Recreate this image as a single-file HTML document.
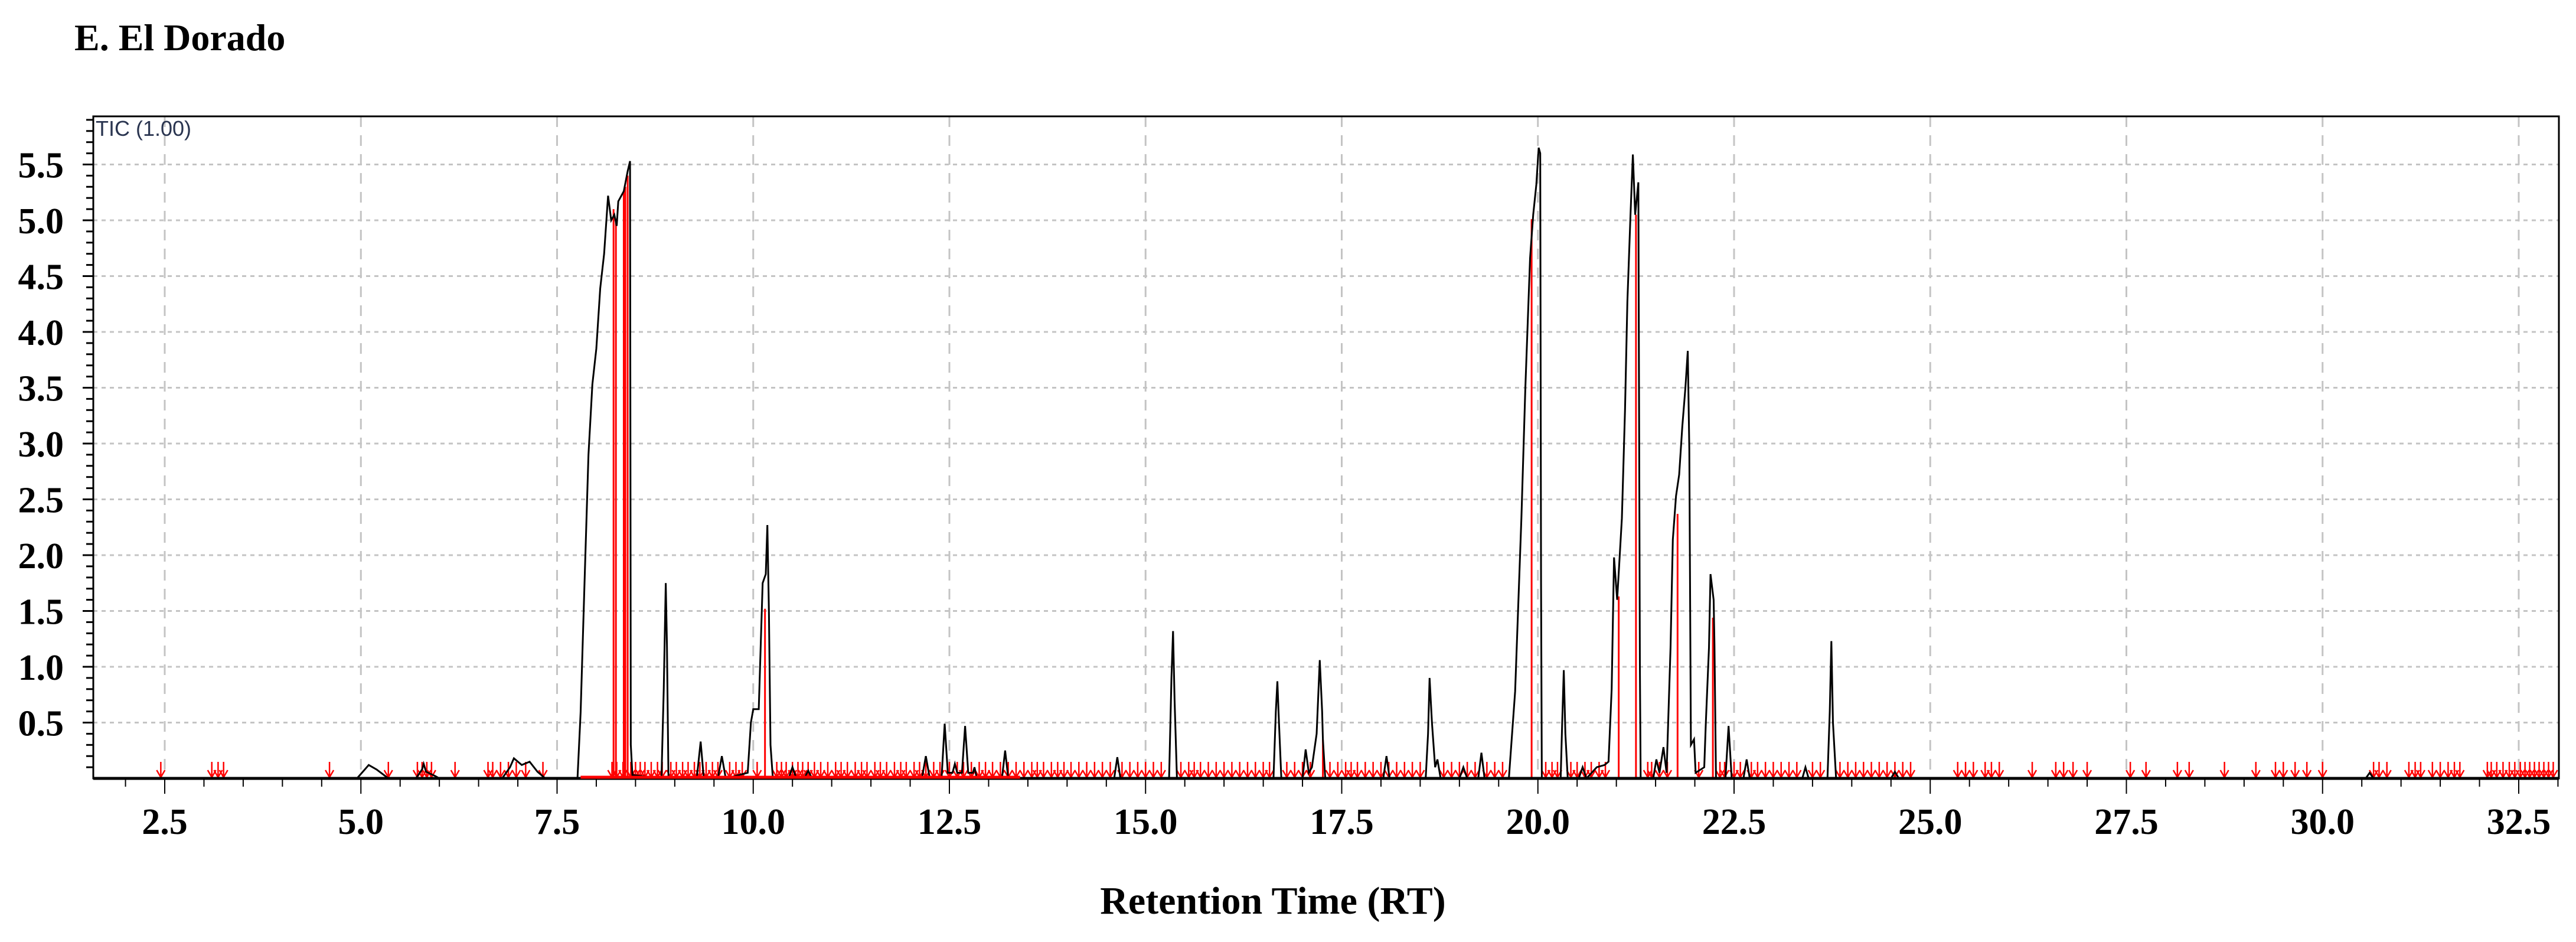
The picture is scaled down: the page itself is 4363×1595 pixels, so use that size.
<!DOCTYPE html>
<html><head><meta charset="utf-8">
<style>
html,body{margin:0;padding:0;background:#fff;}
body{width:4363px;height:1590px;overflow:hidden;}
svg text{font-family:"Liberation Serif",serif;}
</style></head>
<body>
<svg id="chart" width="4363" height="1590" viewBox="0 0 4363 1590" xmlns="http://www.w3.org/2000/svg">
<text x="126" y="85" font-size="64" font-weight="bold" fill="#000">E. El Dorado</text>
<g id="grid"></g>
<g id="redlines"></g>
<g id="arrows"></g>
<path id="trace" fill="none" stroke="#000" stroke-width="3" stroke-linejoin="miter"/>
<g id="axes"></g>
<text x="162" y="230" font-size="36" fill="#2a3550" style="font-family:'Liberation Sans',sans-serif">TIC (1.00)</text>
<text x="2156" y="1547" font-size="66" font-weight="bold" text-anchor="middle" fill="#000">Retention Time (RT)</text>
</svg>
<script>
// ---- data ----
const traceT = [1.8,4.95,5.05,5.1,5.2,5.35,5.7,5.78,5.8,5.83,5.95,6.0,6.8,6.9,6.95,7.05,7.15,7.25,7.35,7.76,7.80,7.85,7.90,7.95,8.00,8.05,8.10,8.14,8.15,8.19,8.23,8.26,8.28,8.35,8.40,8.43,8.44,8.46,8.83,8.86,8.885,8.90,8.92,9.28,9.33,9.37,9.55,9.6,9.65,9.93,9.97,10.0,10.07,10.12,10.16,10.18,10.2,10.22,10.25,10.45,10.5,10.55,10.65,10.7,10.75,12.15,12.2,12.25,12.4,12.44,12.48,12.54,12.57,12.6,12.66,12.70,12.74,12.8,12.82,12.85,13.17,13.21,13.25,14.6,14.64,14.68,15.30,15.33,15.35,15.37,15.40,16.63,16.66,16.68,16.70,16.73,17.0,17.04,17.08,17.12,17.18,17.22,17.25,17.26,17.29,18.03,18.07,18.11,18.57,18.6,18.62,18.65,18.69,18.72,18.76,19.0,19.05,19.1,19.24,19.28,19.32,19.55,19.63,19.71,19.79,19.84,19.90,19.94,19.98,20.01,20.03,20.04,20.05,20.29,20.31,20.33,20.35,20.38,20.52,20.57,20.62,20.75,20.85,20.9,20.94,20.97,21.01,21.07,21.11,21.14,21.18,21.21,21.24,21.28,21.30,21.31,21.47,21.51,21.55,21.60,21.64,21.69,21.72,21.76,21.80,21.84,21.88,21.91,21.93,21.95,21.99,22.01,22.12,22.14,22.18,22.20,22.24,22.25,22.27,22.39,22.43,22.47,22.62,22.66,22.7,23.37,23.41,23.45,23.69,23.72,23.74,23.76,23.80,24.5,24.55,24.6,30.55,30.6,30.65,33.0];
const traceV = [0,0,0.08,0.12,0.08,0,0,0.08,0.13,0.06,0.02,0,0,0.1,0.18,0.12,0.15,0.06,0,0,0.59,1.75,2.9,3.53,3.85,4.39,4.7,5.12,5.22,5.0,5.05,4.95,5.17,5.26,5.44,5.53,0.3,0.03,0,0.8,1.75,1.2,0,0,0.33,0,0,0.2,0,0.05,0.5,0.62,0.62,1.75,1.83,2.27,1.5,0.3,0,0,0.1,0,0,0.07,0,0,0.2,0,0,0.49,0.05,0.05,0.13,0.05,0.05,0.47,0.05,0.05,0.1,0,0,0.25,0,0,0.19,0,0,0.9,1.32,0.7,0,0,0.6,0.87,0.5,0,0,0.26,0.05,0.1,0.4,1.06,0.6,0.35,0,0,0.2,0,0,0.4,0.9,0.5,0.1,0.17,0,0,0.1,0,0,0.23,0,0,0,0.78,2.33,3.5,4.66,5.05,5.32,5.65,5.6,1.75,0,0,0.5,0.97,0.4,0,0,0.1,0,0.1,0.12,0.15,0.8,1.98,1.6,2.33,3.3,4.27,5.05,5.59,5.05,5.34,1.0,0,0,0.17,0.05,0.28,0.05,1.17,2.14,2.53,2.72,3.15,3.5,3.83,2.95,0.3,0.35,0.05,0.1,0.5,1.17,1.83,1.6,1.2,0,0,0.47,0,0,0.17,0,0,0.1,0,0,0.6,1.23,0.5,0,0,0.06,0,0,0.05,0,0];
const markerT = [8.22,8.25,8.35,8.37,8.40,10.15,17.26,19.92,21.03,21.25,21.78,22.23];
const markerV = [5.1,5.0,5.26,5.3,5.4,1.52,0.35,5.01,1.63,5.05,2.37,1.44];
const arrowT = [2.45,3.1,3.18,3.25,4.6,5.35,5.72,5.78,5.84,5.9,6.2,6.62,6.68,6.78,6.88,6.98,7.1,7.32,8.2,8.26,8.34,8.44,8.5,8.56,8.62,8.7,8.78,8.84,8.95,9.02,9.1,9.17,9.25,9.32,9.4,9.48,9.55,9.7,9.78,9.86,10.05,10.3,10.36,10.42,10.5,10.57,10.63,10.7,10.78,10.86,10.95,11.05,11.12,11.2,11.3,11.38,11.45,11.55,11.62,11.7,11.8,11.88,11.95,12.05,12.12,12.2,12.3,12.38,12.5,12.6,12.68,12.78,12.88,12.96,13.05,13.15,13.25,13.35,13.45,13.55,13.62,13.7,13.8,13.88,13.96,14.05,14.15,14.25,14.35,14.45,14.55,14.7,14.8,14.9,15.0,15.1,15.2,15.45,15.55,15.62,15.7,15.8,15.9,16.0,16.1,16.2,16.3,16.4,16.5,16.58,16.8,16.9,17.0,17.1,17.35,17.45,17.55,17.62,17.7,17.8,17.9,18.0,18.1,18.2,18.3,18.4,18.5,18.8,18.9,19.0,19.1,19.2,19.35,19.45,19.55,20.1,20.18,20.25,20.42,20.5,20.6,20.68,20.78,20.86,21.4,21.45,21.55,21.65,22.05,22.32,22.38,22.5,22.58,22.72,22.8,22.9,23.0,23.1,23.2,23.3,23.5,23.6,23.85,23.95,24.05,24.15,24.25,24.35,24.45,24.55,24.65,24.75,25.35,25.45,25.55,25.7,25.78,25.88,26.3,26.6,26.7,26.82,27.0,27.55,27.75,28.15,28.3,28.75,29.15,29.4,29.5,29.65,29.8,30.0,30.65,30.72,30.82,31.1,31.18,31.25,31.4,31.5,31.6,31.68,31.75,32.1,32.15,32.22,32.3,32.38,32.45,32.52,32.58,32.64,32.7,32.76,32.82,32.88,32.94];
const xTicks = [2.5,5.0,7.5,10.0,12.5,15.0,17.5,20.0,22.5,25.0,27.5,30.0,32.5];
const yTicks = [0.5,1.0,1.5,2.0,2.5,3.0,3.5,4.0,4.5,5.0,5.5];

// ---- axes ----
const L=158,R=4334,T=197,B=1318;
const xS=t=>279+(t-2.5)*132.9;
const yS=v=>B-v*189;
const NS="http://www.w3.org/2000/svg";
function mk(tag,attrs,parent){const e=document.createElementNS(NS,tag);for(const k in attrs)e.setAttribute(k,attrs[k]);parent.appendChild(e);return e;}
const grid=document.getElementById('grid'),axes=document.getElementById('axes');

xTicks.forEach(t=>{
  const g=mk('line',{x1:xS(t),x2:xS(t),y1:T,y2:B,stroke:'#c4c4c4','stroke-width':3,'stroke-dasharray':'18 14'},grid);
  
  
  const lb=mk('text',{x:xS(t),y:1412,'font-size':62,'font-weight':'bold','text-anchor':'middle',fill:'#000'},axes);
  lb.textContent=t.toFixed(1);
  
  
});
yTicks.forEach(v=>{
  const g=mk('line',{x1:L,x2:R,y1:yS(v),y2:yS(v),stroke:'#c4c4c4','stroke-width':3,'stroke-dasharray':'7 7'},grid);
  
  
  const lb=mk('text',{x:108,y:yS(v)+22,'font-size':62,'font-weight':'bold','text-anchor':'end',fill:'#000'},axes);
  lb.textContent=v.toFixed(1);
  
  
});
for(let i=1;i<=59;i++){const v=i/10;const y=yS(v);if(y<T)break;
  const major=(i%5===0);
  mk('line',{x1:major?140:146,x2:L,y1:y,y2:y,stroke:'#000','stroke-width':3},axes);}
for(let i=4;i<=66;i++){const t=i/2;const x=xS(t);if(x<L||x>R)continue;
  const major=(i%5===0);
  mk('line',{x1:x,x2:x,y1:B,y2:B+(major?26:14),stroke:'#000','stroke-width':2},axes);}
const fr=mk('path',{d:`M${L},${B} L${L},${T} L${R},${T} L${R},${B} Z`,fill:'none',stroke:'#000','stroke-width':3},axes);


mk('line',{x1:L,x2:R,y1:B,y2:B,stroke:'#000','stroke-width':5},axes);
mk('line',{x1:xS(7.8),x2:xS(13.4),y1:B-2,y2:B-2,stroke:'#f00','stroke-width':5},axes);

let d='';
traceT.forEach((t,i)=>{d+=(i?'L':'M')+xS(t).toFixed(1)+','+yS(traceV[i]).toFixed(1);});
document.getElementById('trace').setAttribute('d',d);

const rl=document.getElementById('redlines');
markerT.forEach((t,i)=>{
  const e=mk('line',{x1:xS(t),x2:xS(t),y1:B,y2:yS(markerV[i]),stroke:'#f00','stroke-width':3},rl);
  
  
});
const ar=document.getElementById('arrows');
arrowT.forEach(t=>{
  const x=xS(t);
  const e=mk('path',{d:`M${x},${B-28} L${x},${B-2} M${x-7},${B-14} L${x},${B-2} L${x+7},${B-14}`,fill:'none',stroke:'#f00','stroke-width':2.5},ar);
  
  
});
</script>
</body></html>
